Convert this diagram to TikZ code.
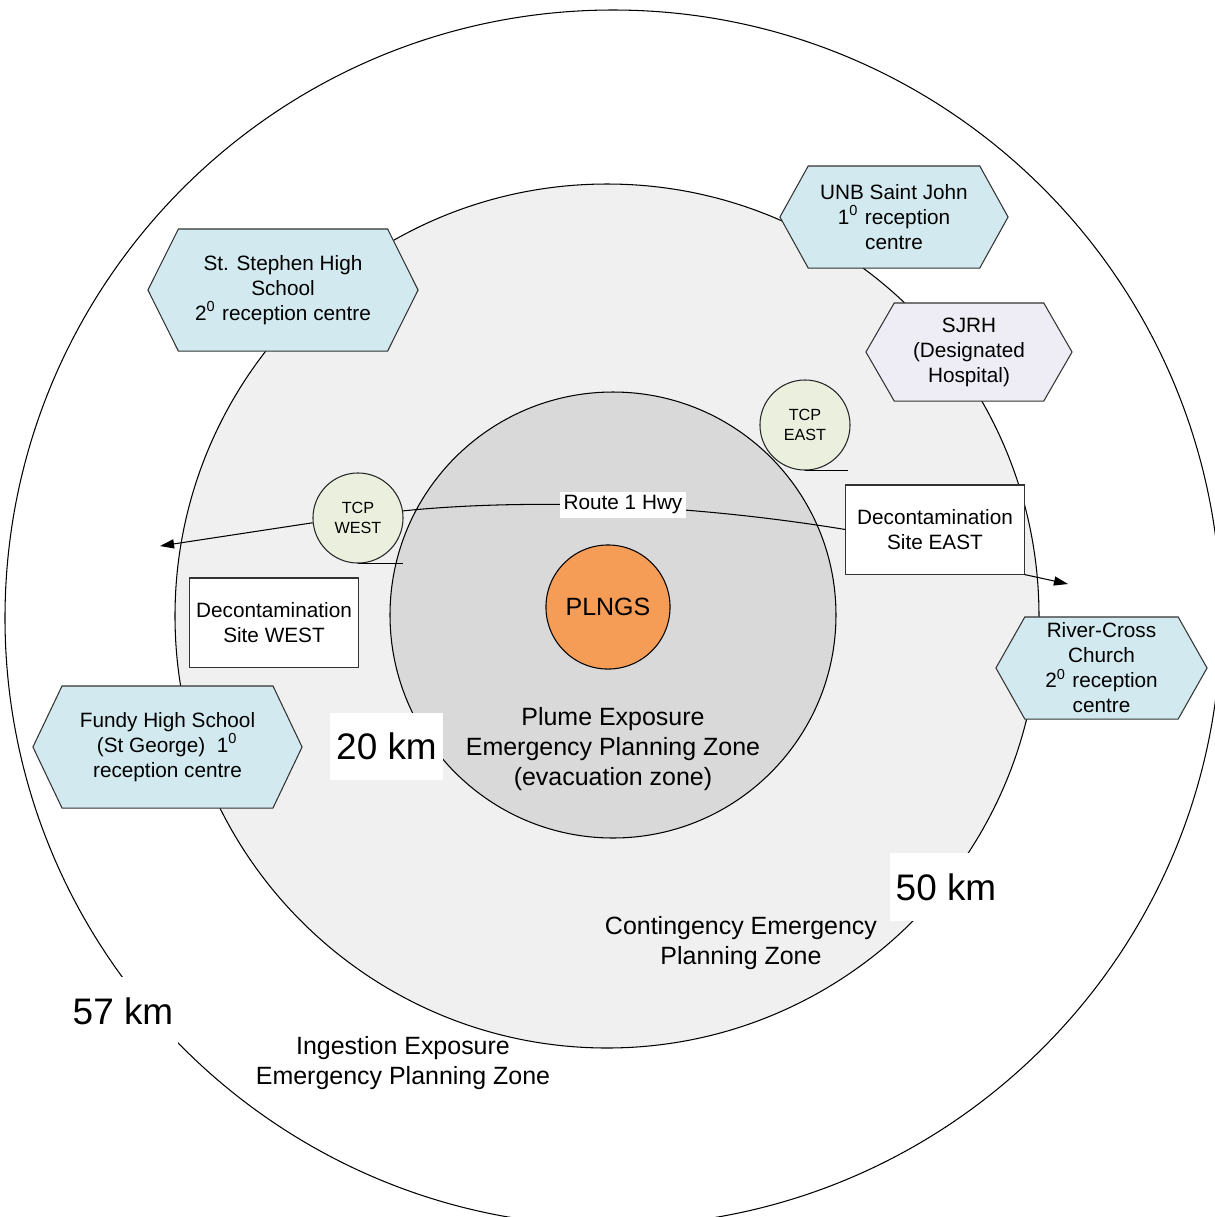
\documentclass[tikz,border=0pt]{standalone}
\usepackage{fontspec}
\setmainfont{Liberation Sans}
\usetikzlibrary{shapes.symbols,arrows.meta}
\definecolor{zonemid}{HTML}{F0F0F0}
\definecolor{zoneinner}{HTML}{D9D9D9}
\definecolor{plant}{HTML}{F59D56}
\definecolor{recep}{HTML}{D2E9EF}
\definecolor{hosp}{HTML}{EEEDF5}
\definecolor{tcpfill}{HTML}{EBF0DE}
\def\sz#1#2{\fontsize{#1}{#2}\selectfont}
\def\deg#1{\textsuperscript{#1}}

\begin{document}
\begin{tikzpicture}[x=0.01cm,y=-0.01cm,line width=0.3pt,
    hexa/.style={shape=signal,signal to=east and west,draw=black!80,fill=recep,
      inner sep=0pt,align=center,font=\sz{5.9}{7.1}},
    tcpnode/.style={circle,draw=black!85,fill=tcpfill,minimum size=0.9cm,inner sep=0pt,
      align=center,font=\sz{4.6}{5.7}},
    site/.style={draw=black!80,fill=white,minimum height=0.89cm,inner sep=0pt,
      align=center,font=\sz{5.9}{7.1}},
    km/.style={fill=white,inner sep=0pt,minimum height=0.67cm,font=\sz{10.5}{12}},
    zone/.style={align=center,font=\sz{7.1}{8.5}},
    tip/.style={-{Triangle[length=4pt,width=2.6pt]}}]
  \useasboundingbox (0,0) rectangle (1215,1217);
  \clip (0,0) rectangle (1215,1217);
  % zones
  \draw (613,618) circle[radius=608];
  \draw[fill=zonemid] (607,616) circle[radius=432];
  \draw[fill=zoneinner] (613,615) circle[radius=223];
  \node[circle,draw,fill=plant,minimum size=1.24cm,inner sep=0pt,font=\sz{7.1}{8.5}]
    (plngs) at (608,607) {PLNGS};
  % traffic control points
  \node[tcpnode] (tcpW) at (358,518) {TCP\\WEST};
  \node[tcpnode] (tcpE) at (805,425) {TCP\\EAST};
  \draw (tcpW.south) -- ++(45,0);
  \draw (tcpE.south) -- ++(43,0);
  % decontamination
  \node[site,minimum width=1.78cm] (deconE) at (935,529.5) {Decontamination\\Site EAST};
  \node[site,minimum width=1.68cm] (deconW) at (274,622.5) {Decontamination\\Site WEST};
  % route 1
  \coordinate (westend) at (160,546);
  \coordinate (eastend) at (1068,584);
  \draw (tcpW.9) .. controls (480,503) and (640,496) .. (deconE.west);
  \node[fill=white,inner sep=1pt,font=\sz{5.9}{7.1}] (route) at (623,505) {Route 1 Hwy};
  \draw[tip] (tcpW.186) -- (westend);
  \draw[tip] (deconE.south east) -- (eastend);
  % reception centres
  \node[hexa,minimum width=2.70cm,minimum height=1.22cm,signal pointer angle=127]
    (stephen) at (283,290) {St. Stephen High\\School\\2\deg{0} reception centre};
  \node[hexa,minimum width=2.28cm,minimum height=1.02cm,signal pointer angle=122]
    (unb) at (894,217) {UNB Saint John\\1\deg{0} reception\\centre};
  \node[hexa,fill=hosp,minimum width=2.06cm,minimum height=0.98cm,signal pointer angle=120]
    (sjrh) at (969,352) {SJRH\\(Designated\\Hospital)};
  \node[hexa,minimum width=2.11cm,minimum height=1.02cm,signal pointer angle=121]
    (river) at (1101.5,668) {River-Cross\\Church\\2\deg{0} reception\\centre};
  \node[hexa,minimum width=2.69cm,minimum height=1.22cm,signal pointer angle=129]
    (fundy) at (167.5,747) {Fundy High School\\(St George)\ \ 1\deg{0}\\reception centre};
  % distances and zone names
  \node[km,minimum width=1.13cm] (km20) at (386.5,746.5) {20 km};
  \node[km,minimum width=1.12cm] (km50) at (946,887) {50 km};
  \node[km,minimum width=1.10cm] (km57) at (123,1011) {57 km};
  \node[zone] (plume) at (613,749) {Plume Exposure\\Emergency Planning Zone\\(evacuation zone)};
  \node[zone] (conting) at (741,943) {Contingency Emergency\\Planning Zone};
  \node[zone] (ingest) at (403,1063) {Ingestion Exposure\\Emergency Planning Zone};
\end{tikzpicture}
\end{document}
